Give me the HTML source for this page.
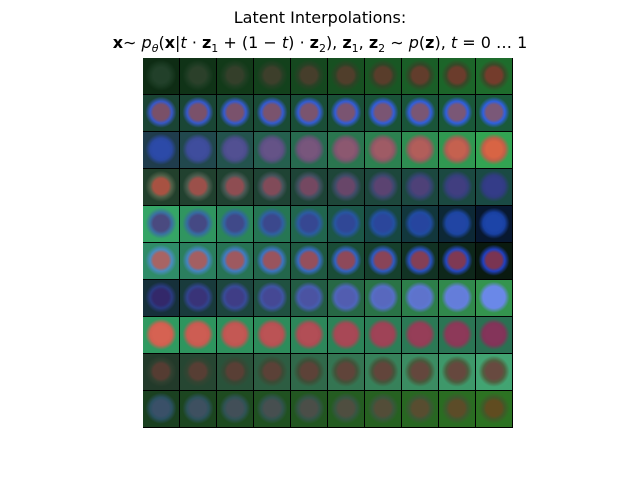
<!DOCTYPE html>
<html><head><meta charset="utf-8"><style>
body{margin:0;width:640px;height:480px;background:#fff;position:relative;overflow:hidden;font-family:"DejaVu Sans",sans-serif;}
#t1{position:absolute;top:8px;left:0;width:640px;text-align:center;font-size:16px;color:#000}
#t2{position:absolute;top:33px;left:0;width:640px;text-align:center;font-size:16px;color:#000;font-family:"DejaVu Sans",sans-serif}
#grid{position:absolute;left:143px;top:58px;width:370px;height:370px;background:#000}
.tile{position:absolute;width:36px;height:36px}
</style></head><body>
<div id="t1">Latent Interpolations:</div>
<div id="t2"><b>x</b>∼ <i>p<sub style="font-size:11px">θ</sub></i>(<b>x</b>|<i>t</i> ⋅ <b>z</b><sub style="font-size:11px">1</sub> + (1 − <i>t</i>) ⋅ <b>z</b><sub style="font-size:11px">2</sub>), <b>z</b><sub style="font-size:11px">1</sub>, <b>z</b><sub style="font-size:11px">2</sub> ∼ <i>p</i>(<b>z</b>), <i>t</i> = 0 … 1</div>
<div id="grid"></div>
<script>
const bgStart=["#0e2c14","#1a4434","#1f3c4c","#22402c","#35a566","#2f8c68","#16303a","#2f9a60","#223a2a","#1a4020"];
const bgEnd=["#1e6c2c","#1a5a3a","#32a452","#1a4a44","#081830","#0a1a10","#34944e","#2a7052","#42a472","#2c7222"];
const nucStart=["#22402a","#7a5068","#2c4aa8","#a85242","#4a4a80","#a86464","#33286a","#d66252","#553c32","#3a5068"];
const nucEnd=["#743c2c","#7a5878","#d86444","#343c88","#1c44a8","#7a3452","#6a88e8","#84345a","#684a40","#604c20"];
const ringStart=["#1a3a22","#3858c8","#2a48a0","#506048","#3a70a0","#4a8cc0","#2a3a80","#d06050","#304030","#2a5060"];
const ringEnd=["#3a4a28","#3060e0","#c06048","#303c80","#1840a0","#2040c0","#6a88e8","#803458","#506040","#405a28"];
function hex(h){return [1,3,5].map(i=>parseInt(h.substr(i,2),16));}
function mix(a,b,t){const A=hex(a),B=hex(b);return 'rgb('+A.map((v,i)=>Math.round(v+(B[i]-v)*t)).join(',')+')';}
const g=document.getElementById('grid');
for(let r=0;r<10;r++){for(let c=0;c<10;c++){
 const t=c/9;
 const d=document.createElement('div');
 d.className='tile';
 
 
 d.style.left=(c*37)+'px';d.style.top=(r*37)+'px';
 const bg=mix(bgStart[r],bgEnd[r],t),nu=mix(nucStart[r],nucEnd[r],t),ri=mix(ringStart[r],ringEnd[r],t);
 d.style.background='radial-gradient(circle at 50% 48%, '+nu+' 0%, '+nu+' 30%, '+ri+' 42%, '+bg+' 60%, '+bg+' 100%)';
 g.appendChild(d);
}}
</script>
</body></html>
